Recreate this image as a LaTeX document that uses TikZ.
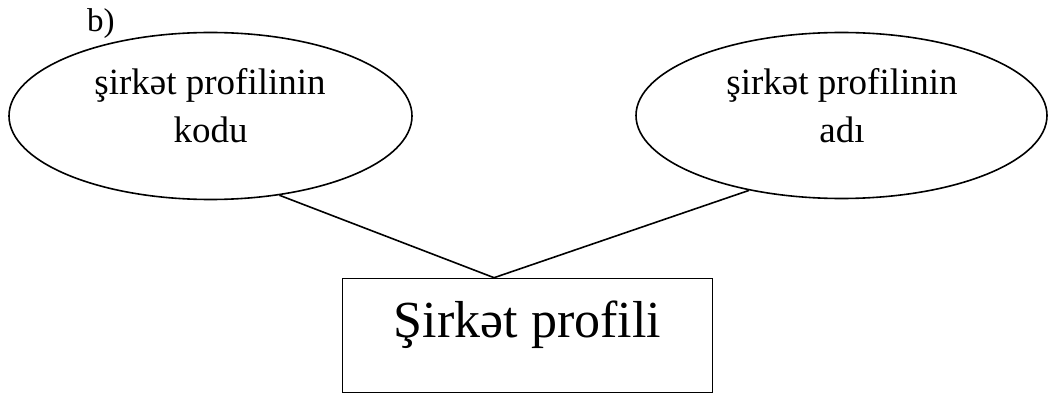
\documentclass[tikz,border=0pt]{standalone}
\usepackage{fontspec}
\setmainfont{Liberation Serif}
\usetikzlibrary{shapes.geometric,calc}
\tikzset{
  attr/.style={draw=black, line width=1.6pt, ellipse, inner sep=0pt},
  entity/.style={draw=black, line width=1.6pt, rectangle, inner sep=0pt},
  attrtext/.style={anchor=base, inner sep=0pt, font=\rmfamily\fontsize{37}{44}\selectfont},
  enttext/.style={anchor=base, inner sep=0pt, font=\rmfamily\fontsize{52}{60}\selectfont},
  link/.style={line width=1.6pt}
}
\begin{document}
\begin{tikzpicture}[x=1pt,y=-1pt]
\useasboundingbox (0,0) rectangle (1049,398);
% attributes
\node[attr, minimum width=403pt, minimum height=167pt] (kod) at (210.5,116) {};
\node[attr, minimum width=411pt, minimum height=166pt] (ad) at (841.5,115.5) {};
\node[attrtext] (kod1) at (210,95) {şirkət profilinin};
\node[attrtext] (kod2) at (210.5,143) {kodu};
\node[attrtext] (ad1) at (842,95) {şirkət profilinin};
\node[attrtext] (ad2) at (842,143) {adı};
% entity
\node[entity, minimum width=370pt, minimum height=114pt] (box) at (527.5,335.5) {};
\node[enttext] (boxt) at (527.5,337) {Şirkət profili};
% label
\node[anchor=base west, inner sep=0pt, font=\rmfamily\fontsize{33}{40}\selectfont] (lbl) at (87,32) {b)};
% connectors
\coordinate (meet) at ($(box.north west)!0.41!(box.north east)$);
\draw[link] (kod.-49) -- (meet);
\draw[link] (ad.-141) -- (meet);
\end{tikzpicture}
\end{document}
